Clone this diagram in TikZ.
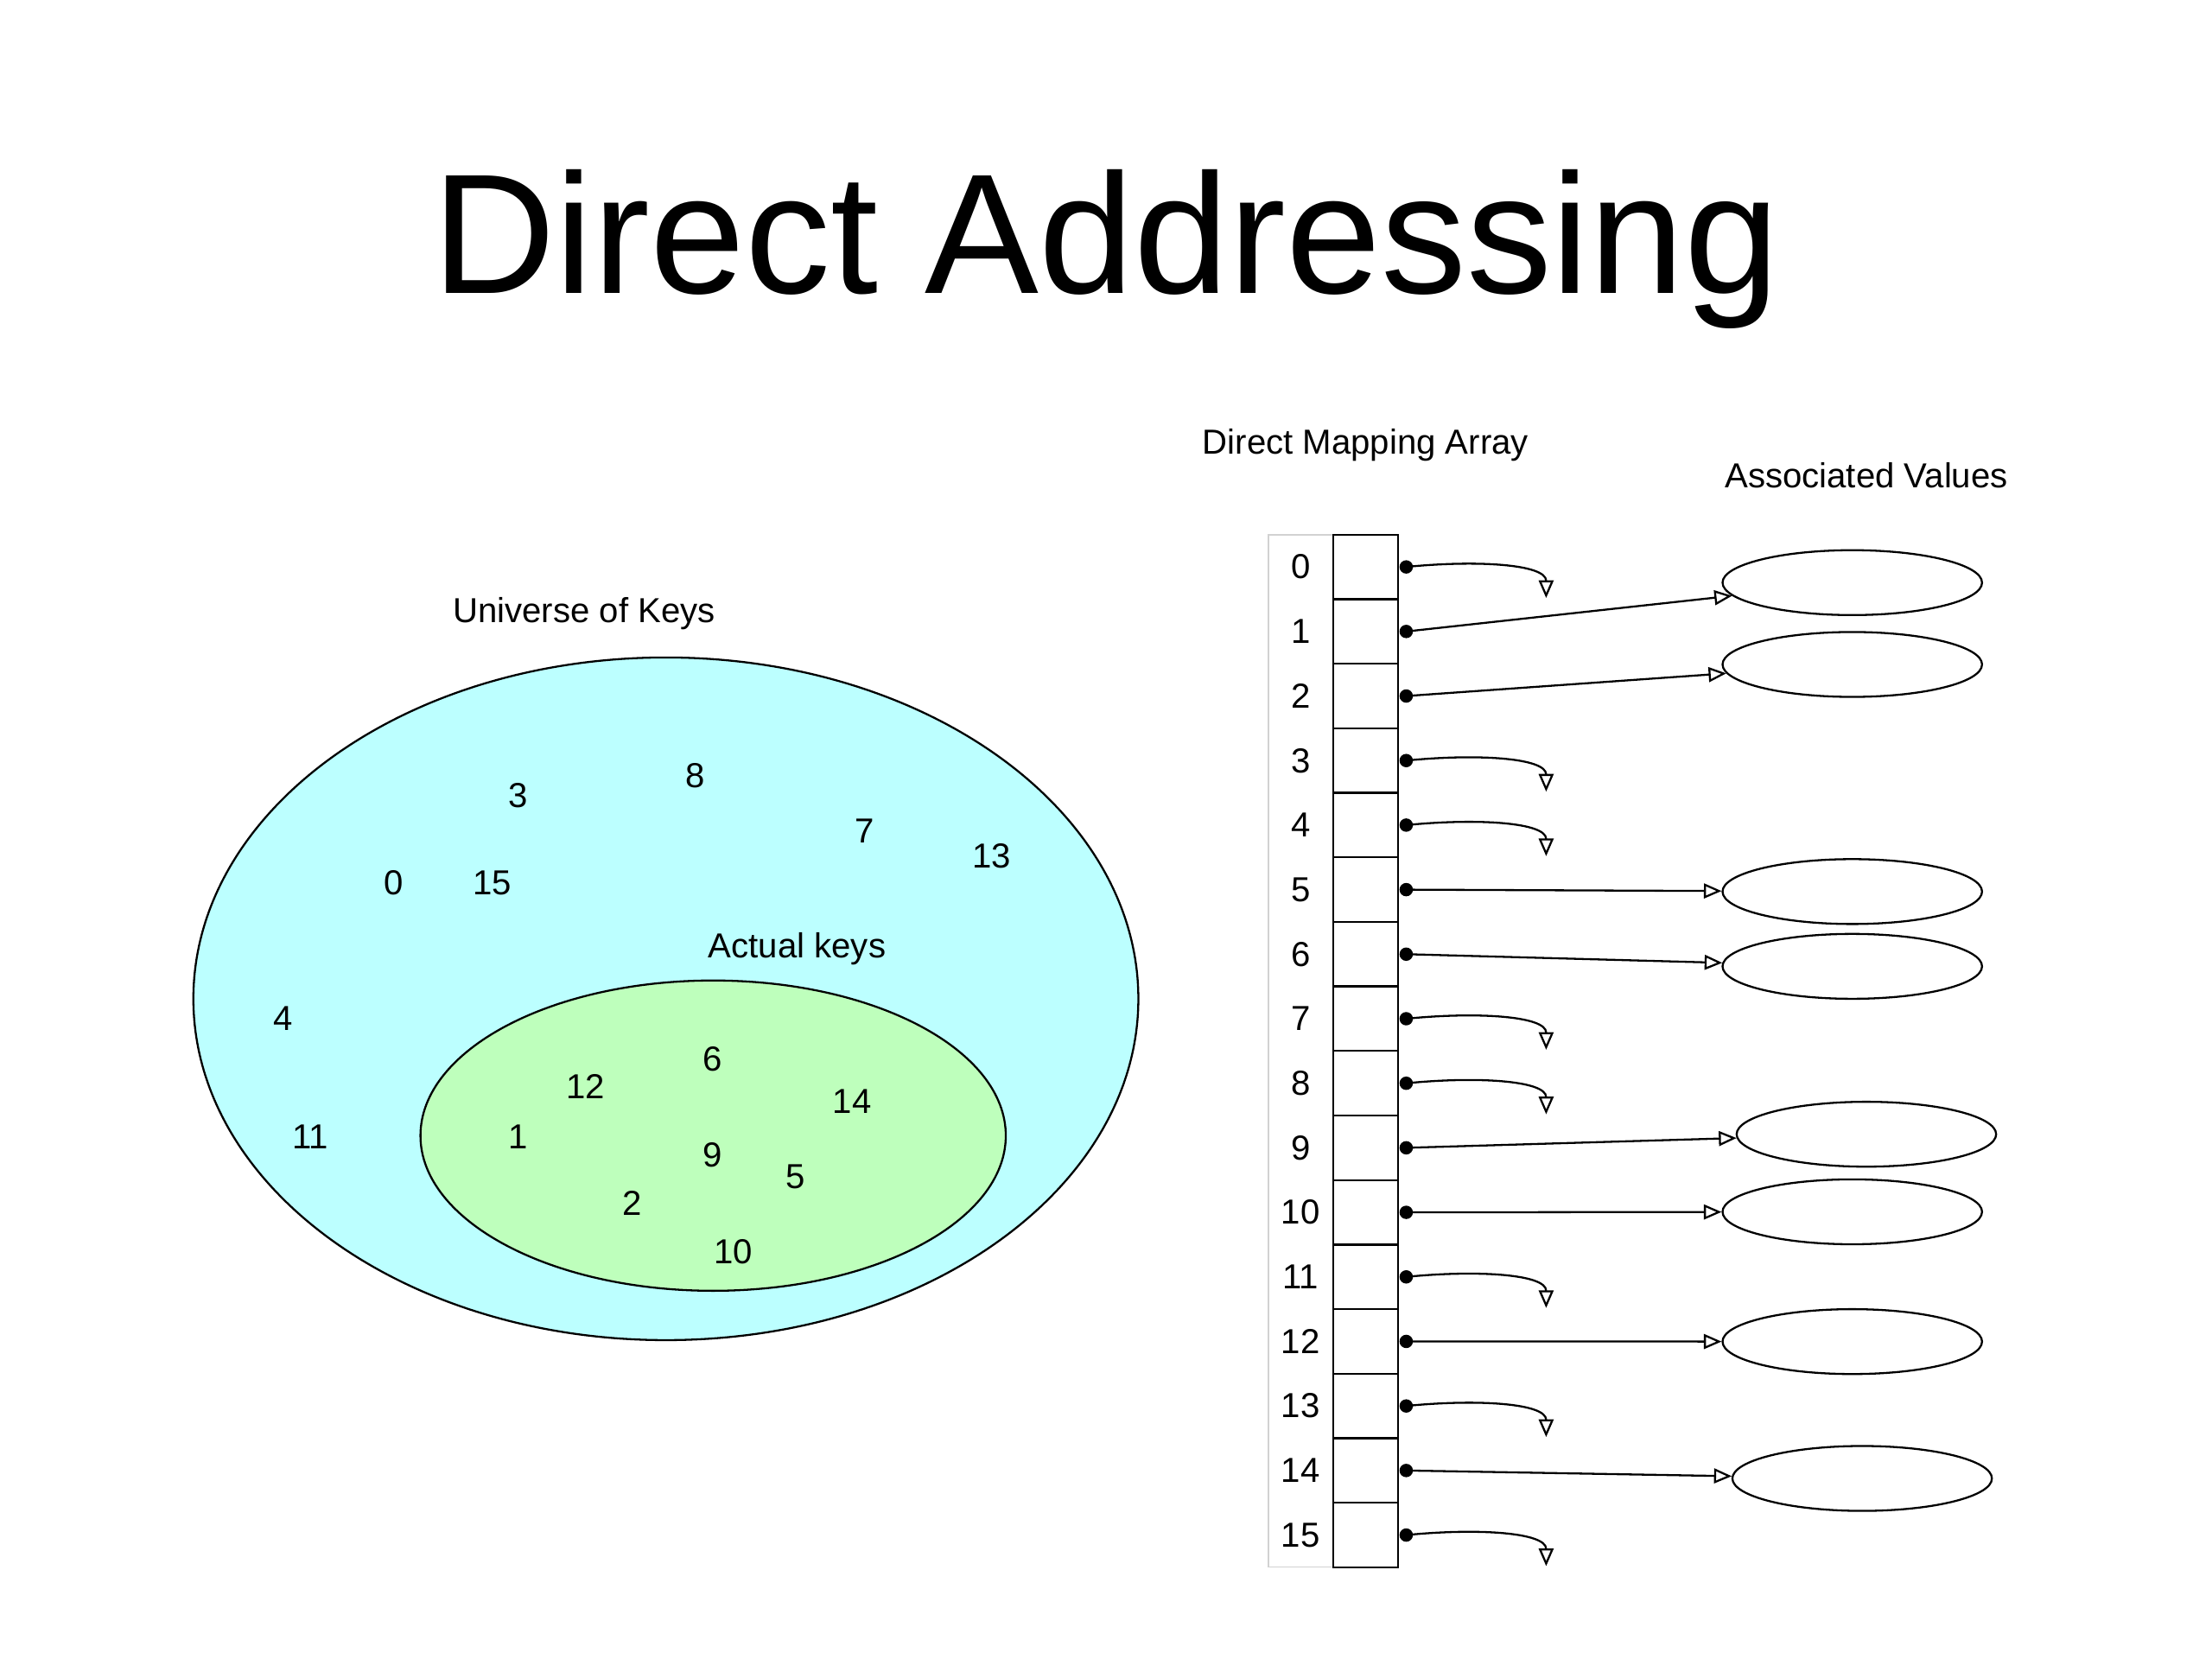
\documentclass[tikz,border=0pt]{standalone}
\usepackage{fontspec}
\setmainfont{Liberation Sans}
\usetikzlibrary{positioning, arrows.meta, shapes.geometric}
\definecolor{keycyan}{RGB}{188,255,255}
\definecolor{keygreen}{RGB}{190,255,188}

\begin{document}
\begin{tikzpicture}[
    x=0.02cm, y=-0.02cm,
    every node/.style={font=\fontsize{14}{17}\selectfont},
    lbl/.style={anchor=base, inner sep=0pt},
    key/.style={inner sep=0pt},
    keyset/.style={draw, ellipse, line width=0.8pt, inner sep=0pt},
    cell/.style={draw, line width=0.8pt, minimum width=0.92cm,
                 minimum height=0.915cm, inner sep=0pt},
    val/.style={draw, ellipse, line width=0.8pt, minimum width=3.68cm,
                minimum height=0.92cm, inner sep=0pt},
    dot/.style={circle, fill, inner sep=0pt, minimum size=0.19cm},
    ptr/.style={-{Triangle[open, length=0.25cm, width=0.21cm]}, line width=0.8pt}]
  \useasboundingbox (0,0) rectangle (1568,1176);
  \node[lbl, font=\fontsize{68.9}{80}\selectfont] (title) at (784,208) {Direct Addressing};

  % --- lewa strona: zbior kluczy ---
  \node[lbl] (ulbl) at (414,441) {Universe of Keys};
  \node[keyset, fill=keycyan, minimum width=13.4cm, minimum height=9.68cm] (univ) at (472,708) {};
  \node[keyset, fill=keygreen, minimum width=8.3cm, minimum height=4.4cm] (act) at (505.5,805) {};
  \node[lbl] (albl) at (565,679) {Actual keys};

  \node[key] (k3)  at (367,564) {3};
  \node[key] (k8)  at (493,550) {8};
  \node[key] (k7)  at (613,589) {7};
  \node[key] (k13) at (703,607) {13};
  \node[key] (k0)  at (279,626) {0};
  \node[key] (k15) at (349,626) {15};
  \node[key] (k4)  at (201,722) {4};
  \node[key] (k11) at (220,806) {11};
  \node[key] (k6)  at (505,751) {6};
  \node[key] (k12) at (415,770) {12};
  \node[key] (k14) at (604,781) {14};
  \node[key] (k1)  at (367,806) {1};
  \node[key] (k9)  at (505,819) {9};
  \node[key] (k5)  at (564,834) {5};
  \node[key] (k2)  at (448,853) {2};
  \node[key] (k10) at (520,887) {10};

  % --- prawa strona: tablica + wartosci ---
  \node[lbl] (tlbl) at (968,322) {Direct Mapping Array};
  \node[lbl] (vlbl) at (1323,346) {Associated Values};
  \node[draw=gray!35, line width=0.5pt, minimum width=0.92cm, minimum height=14.64cm,
        inner sep=0pt] (idx) at (922,745) {};
  \foreach \i in {0,...,15} {
    \node[cell] (c\i) at (968,{379+45.75*(\i+0.5)}) {};
    \node[key]  (n\i) at (922,{379+45.75*(\i+0.5)}) {\i};
    \node[dot, right=0pt of c\i] (p\i) {};
  }

  \node[val] (v1)  at (1313,413) {};
  \node[val] (v2)  at (1313,471) {};
  \node[val] (v5)  at (1313,632) {};
  \node[val] (v6)  at (1313,685) {};
  \node[val] (v9)  at (1323,804) {};
  \node[val] (v10) at (1313,859) {};
  \node[val] (v12) at (1313,951) {};
  \node[val] (v14) at (1320,1048) {};

  \foreach \i in {1,2,5,6,9,10,12,14}
    \draw[ptr] (p\i.center) -- (v\i);
  % --- puste wskazniki ---
  \foreach \i in {0,3,4,7,8,11,13,15} {
    \coordinate (z\i) at (1096,{379+45.75*(\i+0.5)+22});
    \draw[ptr] (p\i.center) .. controls +(50,-5) and +(0,-24) .. (z\i);
  }
\end{tikzpicture}
\end{document}
